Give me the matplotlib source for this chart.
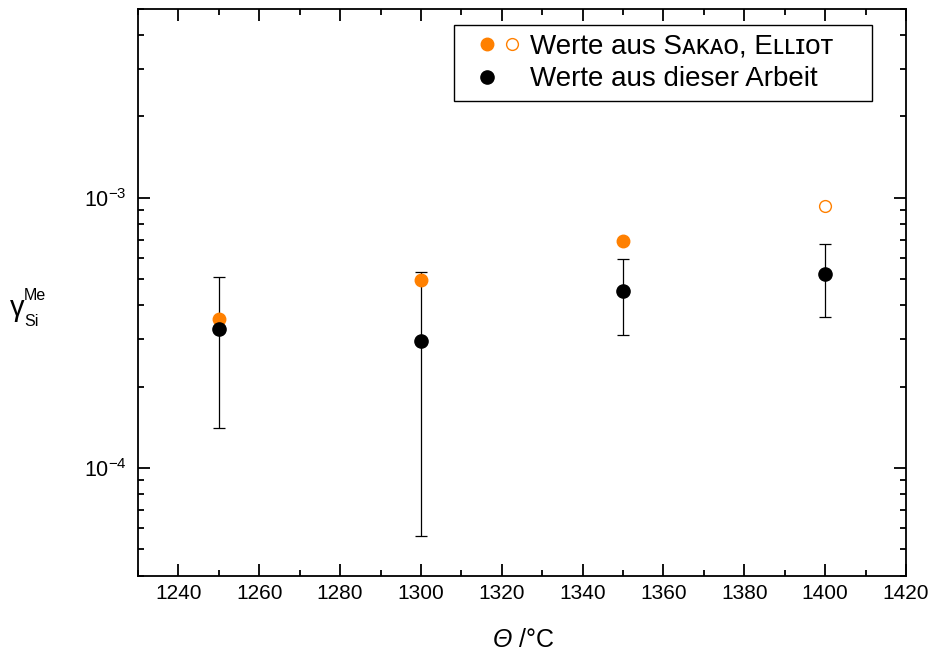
import matplotlib
matplotlib.use('Agg')
import matplotlib.pyplot as plt
from matplotlib.lines import Line2D
from matplotlib.legend_handler import HandlerTuple
from matplotlib.ticker import MultipleLocator, LogLocator

plt.rcParams['font.family'] = ['Liberation Sans', 'DejaVu Sans']
plt.rcParams['mathtext.fontset'] = 'custom'
plt.rcParams['mathtext.rm'] = 'Liberation Sans'
plt.rcParams['mathtext.it'] = 'Liberation Sans:italic'
plt.rcParams['mathtext.bf'] = 'Liberation Sans:bold'
plt.rcParams['axes.unicode_minus'] = False

# Werte aus dieser Arbeit
temp = [1250, 1300, 1350, 1400]
gamma = [3.26e-4, 2.94e-4, 4.52e-4, 5.20e-4]
gamma_hi = [5.09e-4, 5.30e-4, 5.91e-4, 6.76e-4]
gamma_lo = [1.41e-4, 5.61e-5, 3.11e-4, 3.62e-4]

# Werte aus Sakao, Elliot
temp_lit = [1250, 1300, 1350]
gamma_lit = [3.56e-4, 4.98e-4, 6.90e-4]
temp_lit_open = [1400]
gamma_lit_open = [9.34e-4]

orange = '#ff8000'
W, H = 936, 654

fig = plt.figure(figsize=(W/100, H/100), dpi=100)
ax = fig.add_axes([138/W, 1-575.7/H, (906-138)/W, (575.7-8.7)/H])

err_lo = [g - l for g, l in zip(gamma, gamma_lo)]
err_hi = [h - g for g, h in zip(gamma, gamma_hi)]
ax.errorbar(temp, gamma, yerr=[err_lo, err_hi], fmt='none', ecolor='black',
            elinewidth=0.9, capsize=4.5, capthick=0.9, zorder=2)
ax.plot(temp_lit, gamma_lit, ls='none', marker='o', ms=9, mfc=orange, mec=orange, zorder=3)
ax.plot(temp_lit_open, gamma_lit_open, ls='none', marker='o', ms=8.5, mfc='none',
        mec=orange, mew=1, zorder=3)
ax.plot(temp, gamma, ls='none', marker='o', ms=9.5, color='black', zorder=4)

ax.set_yscale('log')
ax.set_xlim(1230, 1420)
ax.set_ylim(4e-5, 5e-3)
ax.xaxis.set_major_locator(MultipleLocator(20))
ax.xaxis.set_minor_locator(MultipleLocator(10))
ax.yaxis.set_major_locator(LogLocator(base=10))
ax.yaxis.set_minor_locator(LogLocator(base=10, subs=range(2, 10)))

for s in ax.spines.values():
    s.set_linewidth(1.3)
ax.tick_params(which='both', direction='in', top=True, right=True, width=1.3, labelsize=15)
ax.tick_params(which='major', length=8.5)
ax.tick_params(which='minor', length=4.5)
ax.tick_params(axis='x', pad=6)
ax.tick_params(axis='y', pad=8, labelsize=15.5)

# x label: italic Theta followed by the unit
t_theta = fig.text(512/W, 1-647/H, 'Θ', style='italic', fontsize=18,
                   ha='right', va='baseline')
ax.annotate(' /°C', xy=(1, 0), xycoords=t_theta, fontsize=18, ha='left', va='bottom')

# y label: gamma with sub- and superscript
fig.text(10/W, 1-316/H, 'γ', fontsize=21, ha='left', va='baseline')
fig.text(24/W, 1-300/H, 'Me', fontsize=11.5, ha='left', va='baseline')
fig.text(24/W, 1-326/H, 'Si', fontsize=11.5, ha='left', va='baseline')

h_fill = Line2D([], [], ls='none', marker='o', ms=9, mfc=orange, mec=orange)
h_open = Line2D([], [], ls='none', marker='o', ms=8.5, mfc='none', mec=orange, mew=1)
h_black = Line2D([], [], ls='none', marker='o', ms=9.5, color='black')
h_blank = Line2D([], [], ls='none', marker=None)

leg = ax.legend([(h_fill, h_open), (h_black, h_blank)],
                ['Werte aus Sᴀᴋᴀᴏ, Eʟʟɪᴏᴛ    ', 'Werte aus dieser Arbeit'],
                handler_map={tuple: HandlerTuple(ndivide=None, pad=-0.88)},
                loc='upper right', bbox_to_anchor=(0.956, 0.971), borderaxespad=0,
                fontsize=20, fancybox=False, edgecolor='black', framealpha=1,
                borderpad=0.3, handlelength=2.68, handletextpad=-0.25,
                labelspacing=0.25)
leg.get_frame().set_linewidth(1.0)

fig.savefig('out.png', dpi=100)
